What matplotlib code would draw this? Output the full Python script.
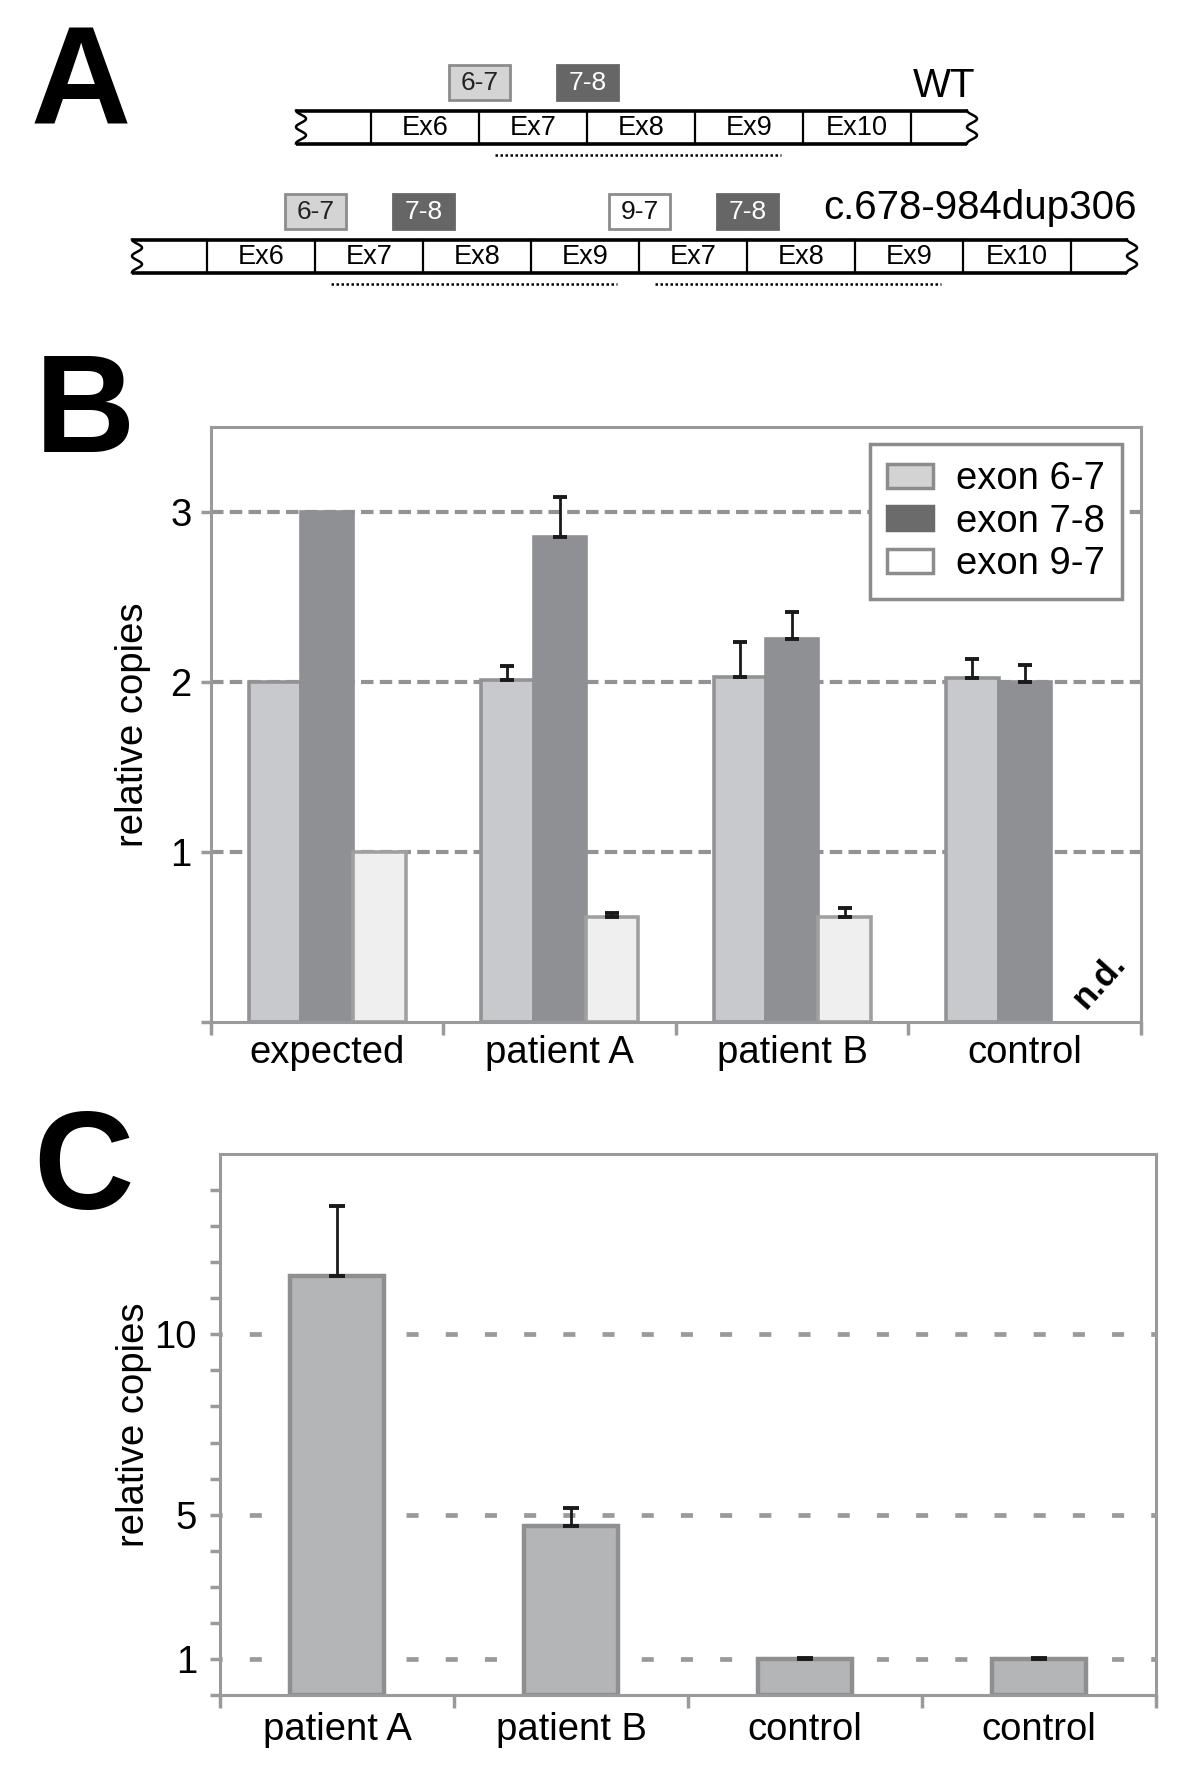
import matplotlib
matplotlib.use('Agg')
import matplotlib.pyplot as plt
import numpy as np
from matplotlib.patches import Rectangle, Patch

plt.rcParams['font.family'] = ['Liberation Sans', 'DejaVu Sans']

# ---- panel A: gene schematic
wt_exons = ['Ex6', 'Ex7', 'Ex8', 'Ex9', 'Ex10']
dup_exons = ['Ex6', 'Ex7', 'Ex8', 'Ex9', 'Ex7', 'Ex8', 'Ex9', 'Ex10']
wt_primers = [('6-7', 1), ('7-8', 2)]          # (amplicon, exon boundary index)
dup_primers = [('6-7', 1), ('7-8', 2), ('9-7', 4), ('7-8', 5)]
wt_dup_region = [(1.15, 3.8)]                  # in exon units
dup_dup_region = [(1.15, 3.8), (4.15, 6.8)]

# ---- panel B
groups_b = ['expected', 'patient A', 'patient B', 'control']
series_b = ['exon 6-7', 'exon 7-8', 'exon 9-7']
exon67 = [2.0, 2.01, 2.03, 2.02]
exon67_err = [0, 0.085, 0.205, 0.115]
exon78 = [3.0, 2.855, 2.25, 2.0]
exon78_err = [0, 0.235, 0.16, 0.10]
exon97 = [1.0, 0.615, 0.615, np.nan]
exon97_err = [0, 0.025, 0.055, 0]

# ---- panel C
groups_c = ['patient A', 'patient B', 'control', 'control']
copies_c = [11.62, 4.69, 1.0, 1.0]
copies_c_err = [1.93, 0.5, 0.03, 0.03]

GRAY = '#9a9a9a'
FS = 27.5

primer_style = {'6-7': ('#d4d4d4', '#8c8c8c', '#222222'),
                '7-8': ('#666666', '#666666', 'white'),
                '9-7': ('white', '#8c8c8c', '#111111')}

fig = plt.figure(figsize=(12, 17.72), dpi=100)

# overlay axes in pixel coordinates for the schematic and panel letters
ax0 = fig.add_axes([0, 0, 1, 1])
ax0.set_xlim(0, 1200)
ax0.set_ylim(1772, 0)
ax0.axis('off')


def draw_gene(ax, exons, x0, yc, primers, regions, w=108, lflank=75, rflank=66, h=33):
    left = x0 - lflank
    right = x0 + len(exons) * w + rflank
    top, bot = yc - h / 2, yc + h / 2
    t = np.linspace(0, 1, 80)
    wave = 10 * (1 - np.cos(4 * np.pi * t)) / 2
    ax.plot(left + wave, top + t * h, color='k', lw=1.8)
    ax.plot(right + wave - 10, top + t * h, color='k', lw=1.8)
    ax.plot([left, right - 10], [top, top], color='k', lw=2.6, solid_capstyle='butt')
    ax.plot([left, right - 10], [bot, bot], color='k', lw=2.6, solid_capstyle='butt')
    for i in range(len(exons) + 1):
        ax.plot([x0 + i * w] * 2, [top, bot], color='k', lw=1.6)
    for i, name in enumerate(exons):
        ax.text(x0 + (i + 0.5) * w, yc + 1, name, ha='center', va='center', fontsize=19.5)
    for label, b in primers:
        fc, ec, tc = primer_style[label]
        ax.add_patch(Rectangle((x0 + b * w - 30, top - 46), 61, 35, fc=fc, ec=ec, lw=2))
        ax.text(x0 + b * w + 0.5, top - 28, label, ha='center', va='center',
                fontsize=19, color=tc)
    for s, e in regions:
        ax.plot([x0 + s * w, x0 + e * w], [bot + 11] * 2, color='k', lw=1.8,
                ls=(0, (1, 1)))
    return right


r_wt = draw_gene(ax0, wt_exons, 371, 127, wt_primers, wt_dup_region)
ax0.text(r_wt - 2, 86, 'WT', ha='right', va='center', fontsize=29)
r_dup = draw_gene(ax0, dup_exons, 207, 256, dup_primers, dup_dup_region)
ax0.text(r_dup, 208, 'c.678-984dup306', ha='right', va='center', fontsize=29)

for letter, (lx, ly) in zip('ABC', [(81, 88), (85, 416), (83, 1173)]):
    ax0.text(lx, ly, letter, ha='center', va='center', fontsize=100, fontweight='bold')


def style_axes(ax, xpad):
    for sp in ax.spines.values():
        sp.set_color(GRAY)
        sp.set_linewidth(2.2)
    ax.set_xlim(-0.5, 3.5)
    ax.set_xticks(np.arange(-0.5, 4, 1), minor=True)
    ax.tick_params(axis='x', which='major', length=0, labelsize=FS, pad=xpad)
    ax.tick_params(axis='x', which='minor', length=9, width=2.5, color=GRAY, direction='out')
    ax.tick_params(axis='y', which='both', length=7, width=2.5, color=GRAY,
                   direction='out', labelsize=FS, pad=7)
    ax.set_axisbelow(True)


# ---- panel B
axb = fig.add_axes([0.1758, 0.4233, 0.775, 0.3358])
xb = np.arange(len(groups_b))
wb = 0.225
specs = [(exon67, exon67_err, '#c8c9cc', '#939396'),
         (exon78, exon78_err, '#8f9094', '#8f9094'),
         (exon97, exon97_err, '#efefef', '#a0a0a0')]
for k, (vals, errs, fc, ec) in enumerate(specs):
    xs = xb + (k - 1) * wb
    vals = np.array(vals)
    errs = np.array(errs)
    axb.bar(xs, vals, wb, color=fc, edgecolor=ec, linewidth=2.6, zorder=2)
    m = errs > 0
    axb.errorbar(xs[m], vals[m], yerr=[np.zeros(m.sum()), errs[m]], fmt='none',
                 ecolor='#1a1a1a', elinewidth=2, capsize=5, capthick=2.8, zorder=3)

style_axes(axb, 9.5)
axb.set_ylim(0, 3.5)
axb.set_yticks([1, 2, 3])
axb.set_yticks([0], minor=True)
axb.set_xticks(xb, groups_b)
axb.yaxis.grid(True, which='major', color='#939393', lw=3.0, ls=(0, (3, 1.5)))
axb.set_ylabel('relative copies', fontsize=FS, labelpad=14)
axb.text(3.32, 0.245, 'n.d.', rotation=48, ha='center', va='center',
         fontsize=25, fontweight='bold')

handles = [Patch(facecolor='#d3d3d3', edgecolor='#8c8c8c', linewidth=2.5),
           Patch(facecolor='#6b6b6b', edgecolor='#6b6b6b', linewidth=2.5),
           Patch(facecolor='white', edgecolor='#8c8c8c', linewidth=2.5)]
leg = axb.legend(handles, series_b, loc='upper right', bbox_to_anchor=(0.98, 0.971),
                 borderaxespad=0, fontsize=FS, fancybox=False, framealpha=1,
                 handlelength=1.2, handleheight=0.6, handletextpad=0.62,
                 labelspacing=0.17, borderpad=0.45)
leg.get_frame().set_edgecolor('#8c8c8c')
leg.get_frame().set_linewidth(2.5)

# ---- panel C
axc = fig.add_axes([0.1833, 0.04345, 0.78, 0.3053])
xc = np.arange(len(groups_c))
axc.bar(xc, copies_c, 0.405, color='#b4b5b7', edgecolor='#8f8f92', linewidth=3.2, zorder=2)
axc.errorbar(xc, copies_c, yerr=[np.zeros(len(xc)), copies_c_err], fmt='none',
             ecolor='#1a1a1a', elinewidth=2, capsize=5.5, capthick=2.8, zorder=3)
style_axes(axc, 12)
axc.tick_params(axis='y', which='both', pad=9.5)
axc.set_ylim(0, 15)
axc.set_yticks([1, 5, 10])
axc.set_yticks(np.arange(0, 15), minor=True)
axc.set_xticks(xc, groups_c)
axc.yaxis.grid(True, which='major', color=GRAY, lw=3.4, ls=(2.1, (2.55, 5.75)))
axc.set_ylabel('relative copies', fontsize=FS, labelpad=2)

fig.savefig('out.png', dpi=100)
